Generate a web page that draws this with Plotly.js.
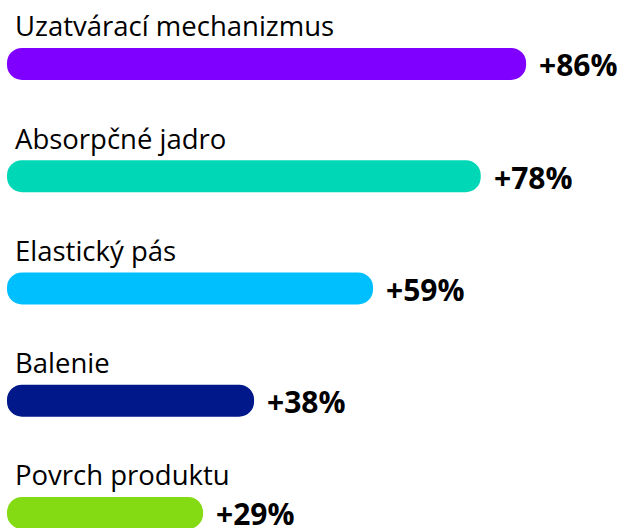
<!DOCTYPE html>
<html>
<head>
<meta charset="utf-8">
<script src="https://cdn.plot.ly/plotly-3.0.1.min.js"></script>
<style>html,body{margin:0;padding:0;background:#fff;}#chart{width:621px;height:528px;} text{font-variant-ligatures:none;}</style>
</head>
<body>
<div id="chart"></div>
<script>
const categories = ["Uzatvárací mechanizmus", "Absorpčné jadro", "Elastický pás", "Balenie", "Povrch produktu"];
const values = [86, 78, 59, 38, 29];
const valueLabels = ["+86%", "+78%", "+59%", "+38%", "+29%"];
const colors = ["#8000FF", "#00D7B6", "#00BFFF", "#001889", "#84DB14"];

const capBase = -5.6;
const FONT = "'Open Sans', sans-serif";

const trace = {
  type: "bar",
  orientation: "h",
  y: categories,
  x: values.map(v => v - capBase),
  base: capBase,
  width: 0.285,
  marker: { color: colors, cornerradius: 16, line: { width: 0 } },
  hoverinfo: "none"
};

const annotations = [];
categories.forEach((c, i) => {
  annotations.push({
    x: capBase, y: c, xref: "x", yref: "y",
    text: c, showarrow: false, xanchor: "left", yanchor: "middle",
    xshift: 6, yshift: 38,
    font: { family: FONT, size: 27.5, color: "#000" }
  });
  annotations.push({
    x: values[i], y: c, xref: "x", yref: "y",
    text: "<b>" + valueLabels[i] + "</b>", showarrow: false, xanchor: "left", yanchor: "middle",
    xshift: 11, yshift: -1,
    font: { family: FONT, size: 30, color: "#000" }
  });
});

const layout = {
  width: 621, height: 528,
  margin: { l: 7, r: 0, t: 0, b: 0 },
  paper_bgcolor: "#fff", plot_bgcolor: "#fff",
  showlegend: false,
  xaxis: { range: [capBase, 102.75], visible: false, fixedrange: true },
  yaxis: { type: "category", range: [4.134, -0.570], visible: false, fixedrange: true },
  annotations: annotations
};

Plotly.newPlot("chart", [trace], layout, { displayModeBar: false, staticPlot: true });
</script>
</body>
</html>
